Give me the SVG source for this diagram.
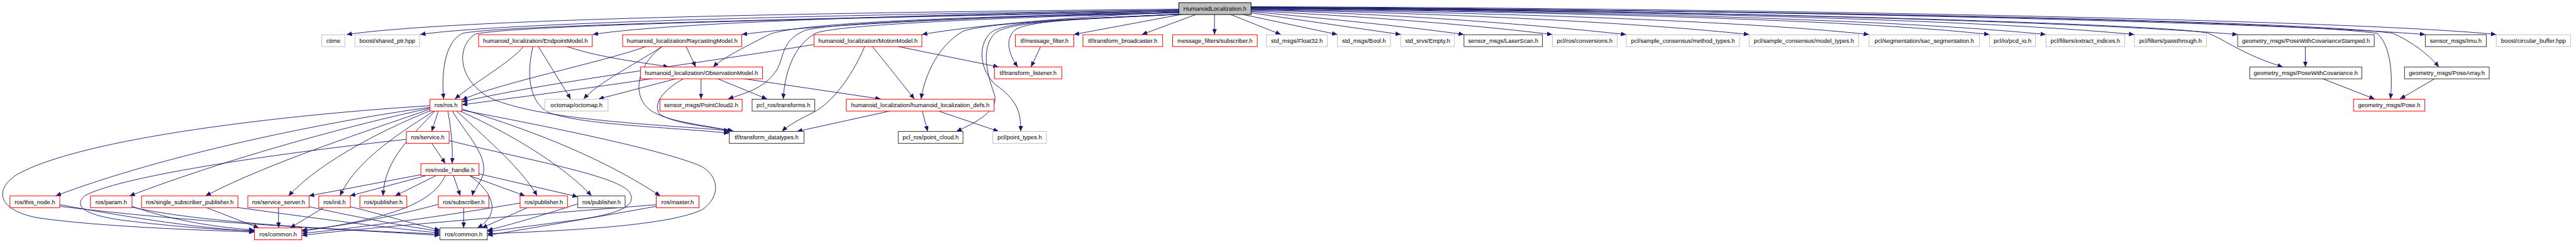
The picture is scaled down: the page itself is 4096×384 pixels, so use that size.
<svg xmlns="http://www.w3.org/2000/svg" width="4096" height="384" viewBox="0 0 4096 384">
<style>
.n rect{fill:#fff;stroke-width:1.5}
.red rect{stroke:#ff0000}
.gry rect{stroke:#bfbfbf}
.blk rect{stroke:#333}
.top rect{fill:#bfbfbf;stroke:#000}
text{font-family:"Liberation Sans",Arial,sans-serif;font-size:14.3px;text-anchor:middle;fill:#000}
#edges path{fill:none;stroke:#191970;stroke-width:1.4;marker-end:url(#a)}
</style>
<defs>
<marker id="a" viewBox="0 0 13 11" refX="13" refY="5.5" markerWidth="13" markerHeight="11" markerUnits="userSpaceOnUse" orient="auto"><path d="M0,0 L13,5.5 L0,11 z" fill="#191970"/></marker>
</defs>
<rect width="4096" height="384" fill="#fff"/>
<g transform="scale(0.66)">
<g id="edges">
<!-- top node to row 1 (left) -->
<path d="M2840,22 C2000,30 1100,45 835,83"/>
<path d="M2840,24 C2000,35 1200,55 1012,83"/>
<path d="M2840,24 C2200,35 1600,55 1428,83"/>
<path d="M2840,26 C2400,40 1950,60 1787,83"/>
<path d="M2840,28 C2600,40 2350,60 2221,83"/>
<path d="M2850,34 L2587,83"/>
<path d="M2881,35 L2751,83"/>
<path d="M2926,35 L2926,83"/>
<path d="M2965,35 L3086,83"/>
<path d="M2995,35 L3222,83"/>
<path d="M3014,31 L3375,83"/>
<path d="M3014,28 C3200,45 3400,65 3527,83"/>
<path d="M3014,26 C3300,40 3550,60 3740,83"/>
<path d="M3014,24 C3400,35 3700,60 3918,83"/>
<path d="M3014,23 C3500,32 3950,55 4214,83"/>
<path d="M3014,22 C3600,30 4200,50 4503,83"/>
<path d="M3014,21 C3700,28 4450,45 4793,83"/>
<path d="M3014,20 C3800,27 4550,45 4929,83"/>
<path d="M3014,19 C3900,26 4750,45 5142,83"/>
<path d="M3014,18 C4000,25 5000,50 5391,83"/>
<path d="M3014,17 C4200,22 5500,55 5843,83"/>
<path d="M3014,16 C4300,20 5700,50 6014,83"/>
<path d="M3014,19 C4200,25 5250,60 5320,80 C5360,95 5400,130 5500,161"/>
<path d="M3014,18 C4300,25 5500,50 5727,80 C5760,110 5765,180 5759,238"/>
<path d="M3014,18 C4300,24 5550,50 5765,80 C5810,100 5850,130 5876,161"/>
<!-- top node deeper curves -->
<path d="M2840,26 C1900,45 1200,62 1115,80 C1070,100 1063,180 1069,238"/>
<path d="M2840,27 C1900,46 1230,62 1145,82 C1100,110 1100,190 1180,235 C1300,290 1600,300 1757,314"/>
<path d="M2840,30 C2300,40 1930,55 1855,82 C1800,110 1740,140 1718,161"/>
<path d="M2840,30 C2350,42 1980,55 1935,75 C1880,100 1890,140 1870,170 C1840,215 1790,225 1754,238"/>
<path d="M2840,31 C2400,42 2010,60 1965,80 C1910,110 1890,180 1887,238"/>
<path d="M2845,34 C2600,45 2380,55 2320,75 C2260,110 2228,180 2219,238"/>
<path d="M2845,34 C2600,45 2480,50 2445,72 C2420,95 2430,130 2452,161"/>
<path d="M2852,34 C2600,47 2425,50 2395,82 C2365,115 2375,170 2395,225 C2410,265 2350,295 2304,316"/>
<path d="M2850,34 C2600,46 2420,48 2385,80 C2355,110 2360,170 2400,205 C2450,240 2460,270 2459,316"/>
<!-- EndpointModel -->
<path d="M1261,112 C1230,150 1140,200 1096,238"/>
<path d="M1297,112 L1375,238"/>
<path d="M1366,112 C1450,140 1550,150 1611,161"/>
<path d="M1284,112 C1270,170 1270,240 1320,270 C1400,300 1600,305 1757,320"/>
<!-- RaycastingModel -->
<path d="M1556,112 C1450,150 1200,200 1113,240"/>
<path d="M1595,112 C1520,160 1440,200 1406,238"/>
<path d="M1653,112 L1676,161"/>
<path d="M1595,112 C1530,160 1520,240 1575,270 C1620,295 1700,300 1765,316"/>
<!-- MotionModel -->
<path d="M1961,107 C1700,150 1300,200 1113,245"/>
<path d="M2164,112 L2406,161"/>
<path d="M2102,112 L2203,238"/>
<path d="M2083,112 C2050,190 2000,250 1960,270 C1930,285 1900,300 1884,316"/>
<!-- ObservationModel -->
<path d="M1572,189 C1400,215 1200,240 1113,252"/>
<path d="M1630,189 L1442,238"/>
<path d="M1689,189 L1689,238"/>
<path d="M1728,189 L1848,238"/>
<path d="M1790,189 L2122,238"/>
<path d="M1647,189 C1600,215 1570,250 1590,275 C1630,300 1720,305 1768,316"/>
<!-- defs -->
<path d="M2144,267 L1920,316"/>
<path d="M2222,267 L2235,316"/>
<path d="M2261,267 L2406,316"/>
<!-- tf/message_filter -->
<path d="M2507,112 L2484,161"/>
<!-- geometry msgs -->
<path d="M5554,112 L5554,161"/>
<path d="M5595,189 L5721,238"/>
<path d="M5866,189 L5782,238"/>
<!-- ros/ros.h -->
<path d="M1036,254 C700,275 200,330 40,420 C-20,460 0,510 100,525 C250,545 450,552 613,558"/>
<path d="M1036,258 C800,290 400,370 134,471"/>
<path d="M1036,260 C850,300 550,380 312,471"/>
<path d="M1037,262 C900,310 650,390 495,471"/>
<path d="M1040,265 C950,300 780,380 695,471"/>
<path d="M1045,267 C980,310 860,380 819,471"/>
<path d="M1048,267 C1000,320 925,380 923,471"/>
<path d="M1056,267 L1040,316"/>
<path d="M1079,267 C1085,300 1092,350 1089,393"/>
<path d="M1090,267 C1120,320 1185,380 1160,430 C1150,450 1140,460 1138,471"/>
<path d="M1100,267 C1180,340 1260,410 1294,471"/>
<path d="M1108,267 C1250,330 1370,410 1425,471"/>
<path d="M1113,262 C1300,320 1450,380 1591,471"/>
<path d="M1113,265 C1300,300 1600,360 1690,400 C1740,430 1730,480 1690,505 C1600,545 1350,555 1174,562"/>
<!-- ros/service.h -->
<path d="M1040,344 L1073,393"/>
<path d="M979,335 C700,365 300,420 205,470 C170,500 220,520 300,530 C420,545 520,552 613,555"/>
<path d="M1082,338 C1250,380 1480,420 1515,460 C1540,495 1490,515 1380,530 C1300,540 1230,550 1174,557"/>
<!-- ros/node_handle.h -->
<path d="M1014,420 L744,471"/>
<path d="M1031,421 L843,471"/>
<path d="M1053,421 L952,471"/>
<path d="M1092,421 L1109,471"/>
<path d="M1128,421 L1265,471"/>
<path d="M1154,418 L1392,473"/>
<path d="M1073,421 C1040,500 900,530 727,556"/>
<path d="M1130,421 C1200,470 1200,520 1150,548"/>
<!-- leaves to ros/common.h -->
<path d="M144,492 C350,530 500,550 613,556"/>
<path d="M144,496 C500,540 900,555 1060,563"/>
<path d="M318,496 C400,525 500,545 613,553"/>
<path d="M318,498 C500,540 900,555 1060,566"/>
<path d="M497,499 L624,548"/>
<path d="M573,499 C800,530 950,550 1060,560"/>
<path d="M671,499 L671,548"/>
<path d="M745,497 C850,520 980,545 1060,556"/>
<path d="M780,499 L699,548"/>
<path d="M844,497 C920,515 1000,540 1060,553"/>
<path d="M1057,491 C950,520 820,545 727,553"/>
<path d="M1117,499 L1117,548"/>
<path d="M1253,488 C1100,515 850,550 727,561"/>
<path d="M1271,499 L1161,548"/>
<path d="M1392,490 C1300,520 1230,540 1174,554"/>
<path d="M1581,492 C1300,515 900,545 727,566"/>
<path d="M1581,496 C1450,520 1300,545 1174,566"/>
</g>

<g id="n_top" class="n top"><rect x="2840" y="6.5" width="174" height="28.5"/><text x="2927" y="26">HumanoidLocalization.h</text></g>

<g id="n_ctime" class="n gry"><rect x="775" y="83.5" width="56" height="28.5"/><text x="803" y="103">ctime</text></g>
<g id="n_sharedptr" class="n gry"><rect x="855" y="83.5" width="156" height="28.5"/><text x="933" y="103">boost/shared_ptr.hpp</text></g>
<g id="n_endpoint" class="n red"><rect x="1153" y="83.5" width="274" height="28.5"/><text x="1290" y="103">humanoid_localization/EndpointModel.h</text></g>
<g id="n_raycast" class="n red"><rect x="1500" y="83.5" width="287" height="28.5"/><text x="1643.5" y="103">humanoid_localization/RaycastingModel.h</text></g>
<g id="n_motion" class="n red"><rect x="1961" y="83.5" width="260" height="28.5"/><text x="2091" y="103">humanoid_localization/MotionModel.h</text></g>
<g id="n_msgfilter" class="n red"><rect x="2446" y="83.5" width="141" height="28.5"/><text x="2516.5" y="103">tf/message_filter.h</text></g>
<g id="n_broadcaster" class="n red"><rect x="2609" y="83.5" width="192" height="28.5"/><text x="2705" y="103">tf/transform_broadcaster.h</text></g>
<g id="n_mfsub" class="n red"><rect x="2825" y="83.5" width="204" height="28.5"/><text x="2927" y="103">message_filters/subscriber.h</text></g>
<g id="n_float32" class="n gry"><rect x="3051" y="83.5" width="147" height="28.5"/><text x="3124.5" y="103">std_msgs/Float32.h</text></g>
<g id="n_bool" class="n gry"><rect x="3222" y="83.5" width="128" height="28.5"/><text x="3286" y="103">std_msgs/Bool.h</text></g>
<g id="n_empty" class="n gry"><rect x="3375" y="83.5" width="129" height="28.5"/><text x="3439.5" y="103">std_srvs/Empty.h</text></g>
<g id="n_laserscan" class="n blk"><rect x="3527" y="83.5" width="189" height="28.5"/><text x="3621.5" y="103">sensor_msgs/LaserScan.h</text></g>
<g id="n_conversions" class="n gry"><rect x="3740" y="83.5" width="156" height="28.5"/><text x="3818" y="103">pcl/ros/conversions.h</text></g>
<g id="n_method" class="n gry"><rect x="3918" y="83.5" width="273" height="28.5"/><text x="4054.5" y="103">pcl/sample_consensus/method_types.h</text></g>
<g id="n_model" class="n gry"><rect x="4214" y="83.5" width="264" height="28.5"/><text x="4346" y="103">pcl/sample_consensus/model_types.h</text></g>
<g id="n_sac" class="n gry"><rect x="4503" y="83.5" width="266" height="28.5"/><text x="4636" y="103">pcl/segmentation/sac_segmentation.h</text></g>
<g id="n_pcdio" class="n gry"><rect x="4793" y="83.5" width="111" height="28.5"/><text x="4848.5" y="103">pcl/io/pcd_io.h</text></g>
<g id="n_extract" class="n gry"><rect x="4929" y="83.5" width="190" height="28.5"/><text x="5024" y="103">pcl/filters/extract_indices.h</text></g>
<g id="n_passthrough" class="n gry"><rect x="5142" y="83.5" width="174" height="28.5"/><text x="5229" y="103">pcl/filters/passthrough.h</text></g>
<g id="n_pwcs" class="n blk"><rect x="5391" y="83.5" width="329" height="28.5"/><text x="5555.5" y="103">geometry_msgs/PoseWithCovarianceStamped.h</text></g>
<g id="n_imu" class="n blk"><rect x="5843" y="83.5" width="147" height="28.5"/><text x="5916.5" y="103">sensor_msgs/Imu.h</text></g>
<g id="n_circular" class="n gry"><rect x="6014" y="83.5" width="179" height="28.5"/><text x="6103.5" y="103">boost/circular_buffer.hpp</text></g>

<g id="n_observation" class="n red"><rect x="1543" y="161" width="294" height="28.5"/><text x="1690" y="180.5">humanoid_localization/ObservationModel.h</text></g>
<g id="n_listener" class="n red"><rect x="2396" y="161" width="162" height="28.5"/><text x="2477" y="180.5">tf/transform_listener.h</text></g>
<g id="n_pwc" class="n blk"><rect x="5420" y="161" width="270" height="28.5"/><text x="5555" y="180.5">geometry_msgs/PoseWithCovariance.h</text></g>
<g id="n_posearray" class="n blk"><rect x="5793" y="161" width="204" height="28.5"/><text x="5895" y="180.5">geometry_msgs/PoseArray.h</text></g>

<g id="n_ros" class="n red"><rect x="1036" y="238.5" width="77" height="28.5"/><text x="1074.5" y="258">ros/ros.h</text></g>
<g id="n_octomap" class="n gry"><rect x="1313" y="238.5" width="152" height="28.5"/><text x="1389" y="258">octomap/octomap.h</text></g>
<g id="n_pc2" class="n red"><rect x="1590" y="238.5" width="198" height="28.5"/><text x="1689" y="258">sensor_msgs/PointCloud2.h</text></g>
<g id="n_transforms" class="n blk"><rect x="1812" y="238.5" width="151" height="28.5"/><text x="1887.5" y="258">pcl_ros/transforms.h</text></g>
<g id="n_defs" class="n red"><rect x="2039" y="238.5" width="356" height="28.5"/><text x="2217" y="258">humanoid_localization/humanoid_localization_defs.h</text></g>
<g id="n_pose" class="n red"><rect x="5670" y="238.5" width="172" height="28.5"/><text x="5756" y="258">geometry_msgs/Pose.h</text></g>

<g id="n_service" class="n red"><rect x="979" y="316" width="103" height="28.5"/><text x="1030.5" y="335.5">ros/service.h</text></g>
<g id="n_tfdt" class="n blk"><rect x="1757" y="316" width="180" height="28.5"/><text x="1847" y="335.5">tf/transform_datatypes.h</text></g>
<g id="n_pointcloud" class="n blk"><rect x="2164" y="316" width="156" height="28.5"/><text x="2242" y="335.5">pcl_ros/point_cloud.h</text></g>
<g id="n_pointtypes" class="n gry"><rect x="2392" y="316" width="129" height="28.5"/><text x="2456.5" y="335.5">pcl/point_types.h</text></g>

<g id="n_nodehandle" class="n red"><rect x="1014" y="393.5" width="140" height="28.5"/><text x="1084" y="413">ros/node_handle.h</text></g>

<g id="n_thisnode" class="n red"><rect x="24" y="471" width="120" height="28.5"/><text x="84" y="490.5">ros/this_node.h</text></g>
<g id="n_param" class="n red"><rect x="218" y="471" width="100" height="28.5"/><text x="268" y="490.5">ros/param.h</text></g>
<g id="n_singlesub" class="n red"><rect x="341" y="471" width="232" height="28.5"/><text x="457" y="490.5">ros/single_subscriber_publisher.h</text></g>
<g id="n_serviceserver" class="n red"><rect x="597" y="471" width="148" height="28.5"/><text x="671" y="490.5">ros/service_server.h</text></g>
<g id="n_init" class="n red"><rect x="768" y="471" width="76" height="28.5"/><text x="806" y="490.5">ros/init.h</text></g>
<g id="n_pub1" class="n red"><rect x="867" y="471" width="113" height="28.5"/><text x="923.5" y="490.5">ros/publisher.h</text></g>
<g id="n_subscriber" class="n red"><rect x="1056" y="471" width="122" height="28.5"/><text x="1117" y="490.5">ros/subscriber.h</text></g>
<g id="n_pub2" class="n red"><rect x="1253" y="471" width="114" height="28.5"/><text x="1310" y="490.5">ros/publisher.h</text></g>
<g id="n_pub3" class="n blk"><rect x="1392" y="471" width="114" height="28.5"/><text x="1449" y="490.5">ros/publisher.h</text></g>
<g id="n_master" class="n red"><rect x="1581" y="471" width="103" height="28.5"/><text x="1632.5" y="490.5">ros/master.h</text></g>

<g id="n_common1" class="n red"><rect x="613" y="548" width="114" height="28.5"/><text x="670" y="567.5">ros/common.h</text></g>
<g id="n_common2" class="n blk"><rect x="1060" y="548" width="114" height="28.5"/><text x="1117" y="567.5">ros/common.h</text></g>
</g>
</svg>
